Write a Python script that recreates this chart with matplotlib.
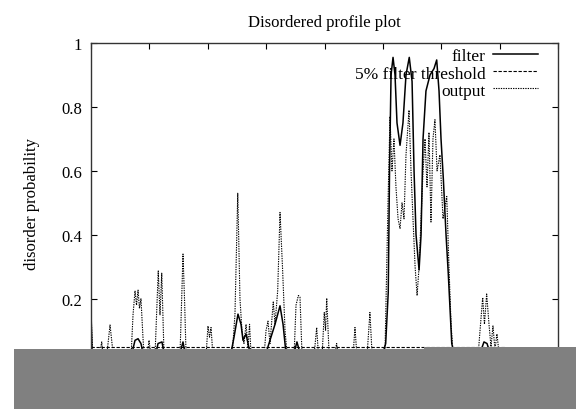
import matplotlib
matplotlib.use("Agg")
import matplotlib.pyplot as plt
from matplotlib.patches import Rectangle

# ---- data (residue position, disorder probability) ----
seq_length = 354.6
threshold = 0.05

filter_x = [0, 0.9, 35.1, 37.7, 40.3, 42.8, 44.5, 55.7, 57.4, 60.8, 62.5, 76.2, 78.8, 80.5,
            119.9, 122.5, 125.9, 128.5, 130.2, 132.8, 134.5, 136.2, 149.9, 153.3, 157.6, 161.9,
            164.5, 167.0, 173.9, 176.4, 179.0, 250.1, 252.4, 254.6, 255.7, 257.0, 258.7, 260.4,
            262.1, 264.7, 267.2, 269.8, 272.6, 275.0, 276.7, 278.4, 281.0, 282.7, 284.4, 286.9,
            290.4, 293.8, 296.1, 298.1, 299.8, 301.8, 304.1, 306.0, 309.0, 310.9, 333.2, 336.6,
            339.2, 341.8, 354.6]
filter_y = [0.16, 0.03, 0.03, 0.07, 0.075, 0.06, 0.03, 0.03, 0.06, 0.065, 0.03, 0.03, 0.065, 0.03,
            0.03, 0.08, 0.152, 0.12, 0.07, 0.09, 0.06, 0.03, 0.03, 0.07, 0.12, 0.178,
            0.12, 0.03, 0.03, 0.065, 0.03, 0.03, 0.06, 0.22, 0.6, 0.9, 0.955, 0.9,
            0.75, 0.68, 0.75, 0.9, 0.955, 0.88, 0.6, 0.4, 0.29, 0.4, 0.7, 0.85,
            0.9, 0.92, 0.947, 0.85, 0.7, 0.574, 0.4, 0.28, 0.06, 0.03, 0.03, 0.065,
            0.06, 0.03, 0.03]

output_x = [0, 1.7, 6.9, 9.2, 10.3, 13.7, 16.3, 18.0, 19.3,
            34.3, 36.0, 37.7, 39.0, 40.3, 41.5, 42.8, 44.5, 45.4,
            48.0, 49.7, 51.4,
            54.8, 57.6, 59.1, 60.6, 62.5,
            76.2, 78.8, 80.1, 81.4,
            98.5, 100.2, 101.5, 102.8, 104.5,
            120.8, 123.3, 125.7, 127.6, 129.3, 131.0, 132.8, 134.5, 135.8, 137.0,
            148.2, 149.9, 151.6, 153.3, 156.1, 157.6, 159.9, 161.9, 164.0, 166.2, 167.9,
            173.9, 175.6, 177.6, 179.0, 180.7,
            191.0, 193.3, 194.9,
            197.9, 199.8, 200.9, 201.9, 203.9,
            208.1, 210.4, 211.6,
            224.4, 226.1, 227.8,
            236.4, 238.9, 240.7,
            251.8, 254.4, 256.1, 257.8, 259.5, 261.2, 263.0, 264.7, 266.4, 268.1, 269.8,
            272.4, 274.1, 275.8, 277.6, 279.3, 281.0, 282.7, 284.4, 286.1, 287.8, 289.5,
            291.2, 292.9, 294.6, 296.4, 298.9, 301.5, 304.7, 306.6, 308.4, 310.1,
            331.5, 333.2, 335.5, 337.0, 338.9, 340.9, 342.6, 344.3, 346.0, 347.7, 349.5, 353.7]
output_y = [0.15, 0.02, 0.02, 0.065, 0.02, 0.03, 0.118, 0.06, 0.02,
            0.02, 0.15, 0.225, 0.18, 0.227, 0.17, 0.2, 0.08, 0.02,
            0.02, 0.07, 0.02,
            0.02, 0.287, 0.15, 0.28, 0.03,
            0.02, 0.34, 0.2, 0.03,
            0.02, 0.115, 0.08, 0.11, 0.02,
            0.02, 0.15, 0.53, 0.2, 0.1, 0.06, 0.12, 0.05, 0.12, 0.03,
            0.02, 0.1, 0.13, 0.06, 0.19, 0.12, 0.225, 0.47, 0.3, 0.1, 0.03,
            0.02, 0.18, 0.21, 0.205, 0.03,
            0.02, 0.11, 0.02,
            0.02, 0.157, 0.1, 0.202, 0.03,
            0.02, 0.06, 0.02,
            0.02, 0.11, 0.02,
            0.02, 0.157, 0.03,
            0.03, 0.5, 0.77, 0.6, 0.7, 0.55, 0.45, 0.42, 0.5, 0.45, 0.65,
            0.79, 0.6, 0.45, 0.3, 0.21, 0.3, 0.45, 0.6, 0.7, 0.55, 0.72,
            0.44, 0.7, 0.76, 0.6, 0.65, 0.45, 0.52, 0.3, 0.12, 0.03,
            0.02, 0.1, 0.204, 0.12, 0.215, 0.12, 0.05, 0.115, 0.04, 0.09, 0.03, 0.02]

x_ticks = [0, 50, 100, 150, 200, 250, 300, 350, 400]
y_ticks = [0, 0.2, 0.4, 0.6, 0.8, 1]
y_tick_labels = ["0", "0.2", "0.4", "0.6", "0.8", "1"]

plt.rcParams['font.family'] = ['Liberation Serif', 'DejaVu Serif']

fig = plt.figure(figsize=(5.76, 4.10), dpi=100)
ax = fig.add_axes([91/576, 1 - 363.7/410, 467/576, 319.7/410])

ax.plot(filter_x, filter_y, color='black', lw=1.1, label='filter')
ax.plot([0, seq_length], [threshold, threshold], color='black', lw=0.8,
        dashes=(3, 1.5), label='5% filter threshold')
ax.plot(output_x, output_y, color='black', lw=0.8, dashes=(1.2, 1.0), label='output')

ax.set_xlim(0, 400)
ax.set_ylim(0, 1)
ax.set_xticks(x_ticks)
ax.set_yticks(y_ticks)
ax.set_yticklabels(y_tick_labels)
ax.tick_params(direction='in', top=True, right=True, length=4.5, width=0.8,
               labelsize=12, pad=6.5)
for s in ax.spines.values():
    s.set_linewidth(1.0)
    s.set_color('#333333')

ax.set_title('Disordered profile plot', fontsize=12, pad=12)
ax.set_ylabel('disorder probability', fontsize=12)
ax.yaxis.set_label_coords(-0.11, 0.5)

leg = ax.legend(loc='upper right', bbox_to_anchor=(0.973, 1.005), frameon=False,
                markerfirst=False, fontsize=12.5, handlelength=2.6, labelspacing=0.05,
                handletextpad=0.45, borderaxespad=0.0)

# grey occluding band at the bottom
fig.add_artist(Rectangle((14/576, 0), 1 - 14/576, 60/410, transform=fig.transFigure,
                         facecolor='#808080', edgecolor='none', zorder=10))
fig.add_artist(Rectangle((424/576, 0), 1 - 424/576, 62.5/410, transform=fig.transFigure,
                         facecolor='#808080', edgecolor='none', zorder=10))

fig.savefig('out.png', dpi=100)
